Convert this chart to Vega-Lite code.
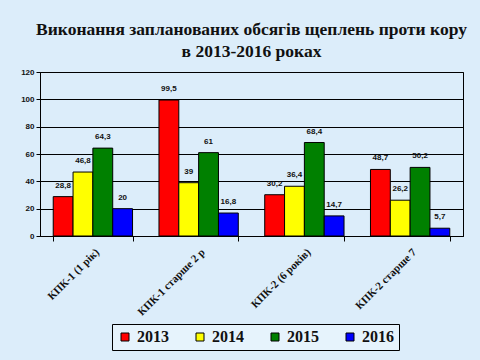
{
  "$schema": "https://vega.github.io/schema/vega-lite/v6.json",
  "autosize": {"type": "none"},
  "width": 423,
  "height": 164,
  "padding": {"left": 40, "top": 72, "right": 17, "bottom": 124},
  "background": "#dcedfa",
  "title": {
    "text": ["Виконання запланованих обсягів щеплень проти кору", "в 2013-2016 роках"],
    "font": "Liberation Serif",
    "fontSize": 17.5,
    "fontWeight": "bold",
    "color": "#111111",
    "lineHeight": 22,
    "offset": 8,
    "anchor": "middle"
  },
  "data": {
    "values": [
      {"cat": "КПК-1 (1 рік)", "year": "2013", "v": 28.8, "lbl": "28,8"},
      {"cat": "КПК-1 (1 рік)", "year": "2014", "v": 46.8, "lbl": "46,8"},
      {"cat": "КПК-1 (1 рік)", "year": "2015", "v": 64.3, "lbl": "64,3"},
      {"cat": "КПК-1 (1 рік)", "year": "2016", "v": 20, "lbl": "20"},
      {"cat": "КПК-1 старше 2 р", "year": "2013", "v": 99.5, "lbl": "99,5"},
      {"cat": "КПК-1 старше 2 р", "year": "2014", "v": 39, "lbl": "39"},
      {"cat": "КПК-1 старше 2 р", "year": "2015", "v": 61, "lbl": "61"},
      {"cat": "КПК-1 старше 2 р", "year": "2016", "v": 16.8, "lbl": "16,8"},
      {"cat": "КПК-2 (6 років)", "year": "2013", "v": 30.2, "lbl": "30,2"},
      {"cat": "КПК-2 (6 років)", "year": "2014", "v": 36.4, "lbl": "36,4"},
      {"cat": "КПК-2 (6 років)", "year": "2015", "v": 68.4, "lbl": "68,4"},
      {"cat": "КПК-2 (6 років)", "year": "2016", "v": 14.7, "lbl": "14,7"},
      {"cat": "КПК-2 старше 7", "year": "2013", "v": 48.7, "lbl": "48,7"},
      {"cat": "КПК-2 старше 7", "year": "2014", "v": 26.2, "lbl": "26,2"},
      {"cat": "КПК-2 старше 7", "year": "2015", "v": 50.2, "lbl": "50,2"},
      {"cat": "КПК-2 старше 7", "year": "2016", "v": 5.7, "lbl": "5,7"}
    ]
  },
  "encoding": {
    "x": {
      "field": "cat",
      "type": "nominal",
      "sort": null,
      "scale": {"paddingInner": 0.25, "paddingOuter": 0.125},
      "axis": {
        "title": null,
        "labelAngle": -45,
        "labelFont": "Liberation Serif",
        "labelFontWeight": "bold",
        "labelFontSize": 11,
        "labelColor": "#111111",
        "labelPadding": 5,
        "tickBand": "extent",
        "tickColor": "black",
        "tickSize": 5,
        "domainColor": "black",
        "labelLimit": 200
      }
    },
    "xOffset": {"field": "year", "type": "nominal"},
    "y": {
      "field": "v",
      "type": "quantitative",
      "scale": {"domain": [0, 120]},
      "axis": {
        "title": null,
        "values": [0, 20, 40, 60, 80, 100, 120],
        "labelFont": "Liberation Sans",
        "labelFontWeight": "bold",
        "labelFontSize": 8,
        "labelColor": "#111111",
        "gridColor": "black",
        "gridOpacity": 1,
        "domainColor": "black",
        "tickColor": "black",
        "tickSize": 4
      }
    }
  },
  "layer": [
    {
      "mark": {"type": "bar", "stroke": "black", "strokeWidth": 1},
      "encoding": {
        "color": {
          "field": "year",
          "type": "nominal",
          "scale": {"domain": ["2013", "2014", "2015", "2016"], "range": ["#ff0000", "#ffff00", "#008000", "#0000ff"]},
          "legend": {
            "title": null,
            "orient": "none",
            "legendX": 72,
            "legendY": 252,
            "direction": "horizontal",
            "symbolType": "square",
            "symbolSize": 64,
            "symbolStrokeColor": "black",
            "symbolStrokeWidth": 1,
            "labelFont": "Liberation Serif",
            "labelFontWeight": "bold",
            "labelFontSize": 16,
            "labelColor": "#111111",
            "labelOffset": 4,
            "strokeColor": "black",
            "fillColor": "#e6f3fc",
            "padding": 5,
            "columnPadding": 23
          }
        }
      }
    },
    {
      "mark": {"type": "text", "dy": -7, "baseline": "bottom", "font": "Liberation Sans", "fontWeight": "bold", "fontSize": 8, "color": "#111111"},
      "encoding": {"text": {"field": "lbl"}}
    }
  ],
  "config": {
    "view": {"stroke": "black", "strokeWidth": 1},
    "axis": {"gridWidth": 1}
  }
}
